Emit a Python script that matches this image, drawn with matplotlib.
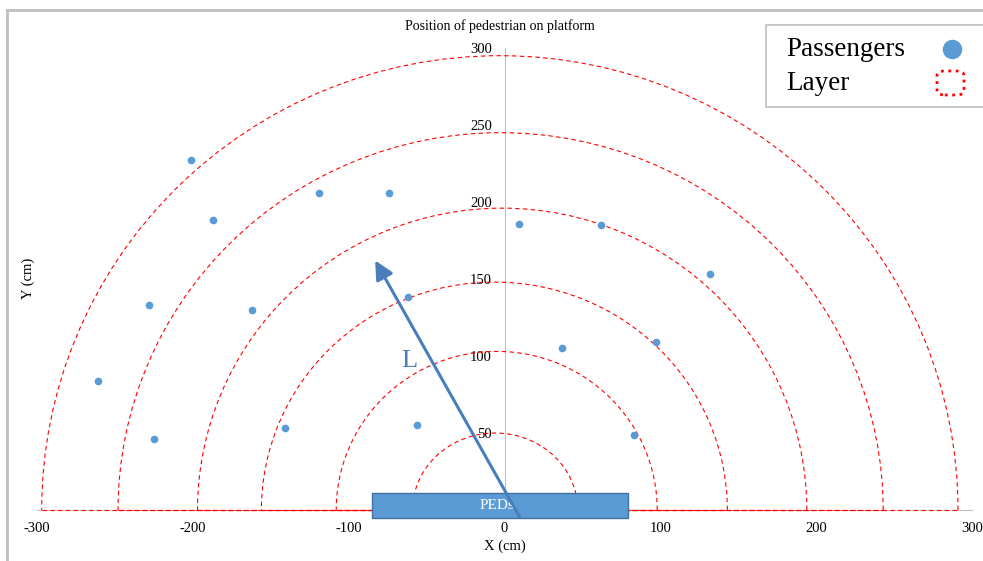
import matplotlib
matplotlib.use('Agg')
import matplotlib.pyplot as plt
from matplotlib.patches import Arc, Rectangle, FancyBboxPatch
from matplotlib.lines import Line2D

plt.rcParams['font.family'] = ['Liberation Serif', 'DejaVu Serif']
plt.rcParams['axes.unicode_minus'] = False

# ---- data ----
pass_x = [-201, -187, -119, -74, -228, -162, -261, -225, -141, -62, -56,
          9, 62, 132, 37, 97, 83]
pass_y = [227, 188, 206, 206, 133, 130, 84, 46, 53, 138, 55,
          186, 185, 153, 105, 109, 49]

# layers (semi-ellipses): left end, right end, top height
layer_left = [-59, -108, -156, -197, -248, -297]
layer_right = [47, 98, 143, 194, 243, 291]
layer_top = [50, 103, 148, 196, 245, 295]

# platform edge box (PEDs): x0, x1, y0, y1
ped_x = [-85, 79]
ped_y = [-5, 11]

# direction arrow L: tail -> tip
arrow_tail = (10, -5)
arrow_tip = (-83, 162)

x_ticks = [-300, -200, -100, 0, 100, 200, 300]
y_ticks = [50, 100, 150, 200, 250, 300]

blue = '#5B9BD5'
dark_blue = '#4A7EBB'
grey = '#BFBFBF'

W, H = 983, 561


def fx(px):
    return px / W


def fy(py):
    return 1 - py / H


fig = plt.figure(figsize=(9.83, 5.61), dpi=100)
ax = fig.add_axes([fx(37), fy(510), (972 - 37) / W, (510 - 48) / H])

# layers
for l, r, t in zip(layer_left, layer_right, layer_top):
    cx = (l + r) / 2
    w = r - l
    ax.add_patch(Arc((cx, 0), w, 2 * t, theta1=0, theta2=180, color='red',
                     lw=0.8, linestyle=(0, (4, 3)), clip_on=False, zorder=3))
    ax.plot([l, r], [0, 0], color='red', lw=0.8, linestyle=(0, (4, 3)),
            clip_on=False, zorder=3)

ax.plot(pass_x, pass_y, 'o', color=blue, markersize=4.5, linestyle='none',
        clip_on=False, zorder=4)

# PED box
ax.add_patch(Rectangle((ped_x[0], ped_y[0]), ped_x[1] - ped_x[0], ped_y[1] - ped_y[0],
                       facecolor=blue, edgecolor='#41719C', lw=1.0,
                       clip_on=False, zorder=5))
ax.text(sum(ped_x) / 2 - 2, sum(ped_y) / 2, 'PEDs', color='white', fontsize=11,
        ha='center', va='center', zorder=6)

ax.annotate('', xy=arrow_tip, xytext=arrow_tail, annotation_clip=False,
            arrowprops=dict(arrowstyle='-|>', color=dark_blue, lw=2.2,
                            mutation_scale=28, shrinkA=0, shrinkB=0), zorder=7)
ax.text(-61, 97, 'L', color=dark_blue, fontsize=19, ha='center', va='center')

ax.set_xlim(-300, 300)
ax.set_ylim(0, 300)
ax.set_xticks(x_ticks)
ax.set_yticks(y_ticks)
ax.tick_params(length=0, labelsize=10.5)
ax.tick_params(axis='x', pad=9)
ax.tick_params(axis='y', pad=9)
for s in ['top', 'right']:
    ax.spines[s].set_visible(False)
ax.spines['left'].set_position(('data', 0))
ax.spines['bottom'].set_position(('data', 0))
ax.spines['left'].set_color(grey)
ax.spines['bottom'].set_color(grey)
ax.patch.set_alpha(0)

fig.text(fx(500), fy(26), 'Position of pedestrian on platform', fontsize=10,
         ha='center', va='center')
fig.text(fx(505), fy(546), 'X (cm)', fontsize=10.5, ha='center', va='center')
fig.text(fx(28), fy(278), 'Y (cm)', fontsize=10.5, ha='center', va='center',
         rotation=90)

# outer frame (only left and top edges inside the picture)
fig.add_artist(Line2D([fx(7), fx(7)], [0, fy(10)], color=grey, lw=2))
fig.add_artist(Line2D([fx(7), 1], [fy(10), fy(10)], color=grey, lw=2))

# legend, drawn by hand: text left, symbols in a column on the right
fig.add_artist(Rectangle((fx(766), fy(107)), fx(240), 82 / H, facecolor='white',
                         edgecolor=grey, lw=1.2, transform=fig.transFigure))
fig.text(fx(786), fy(50), 'Passengers', fontsize=19.5, ha='left', va='center')
fig.text(fx(786), fy(83), 'Layer', fontsize=19.5, ha='left', va='center')
fig.add_artist(Line2D([fx(952)], [fy(49)], marker='o', color=blue,
                      markersize=13, linestyle='none'))
fig.add_artist(FancyBboxPatch((fx(937), fy(95)), fx(27), 24 / H,
                              boxstyle='round,pad=0,rounding_size=0.008',
                              facecolor='none', edgecolor='red', linestyle=':',
                              lw=2, transform=fig.transFigure))

fig.savefig('out.png', dpi=100)
